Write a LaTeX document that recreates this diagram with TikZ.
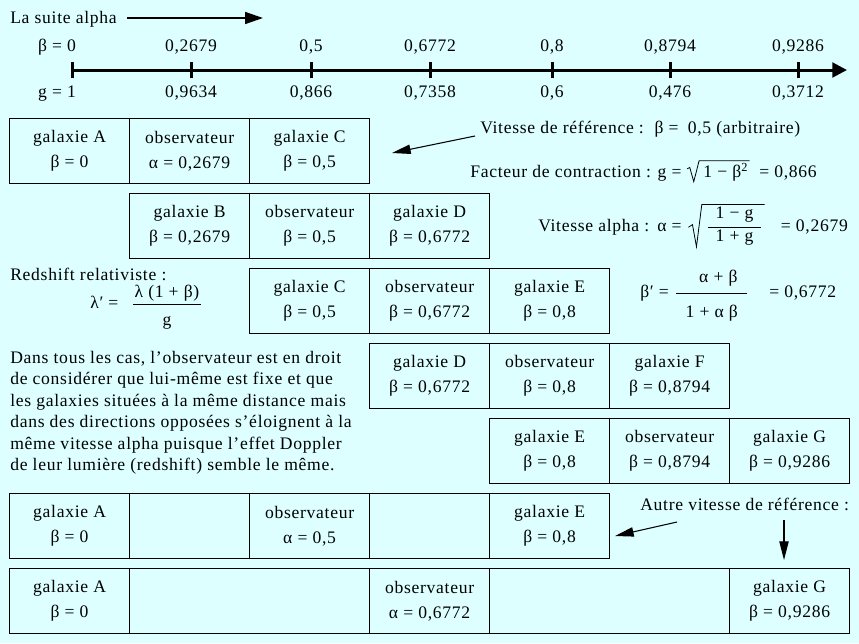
\documentclass[tikz,border=0pt]{standalone}
\usepackage{fontspec}
\setmainfont[LetterSpace=4]{Liberation Serif}
\usetikzlibrary{arrows.meta}
\definecolor{bgc}{RGB}{221,255,255}
\begin{document}
\begin{tikzpicture}[x=0.75pt,y=-0.75pt,
  every node/.style={font=\fontsize{13.2}{18.75}\selectfont, inner sep=0pt},
  cell/.style={draw, line width=0.9pt, anchor=north west, minimum width=90pt, minimum height=48.75pt, align=center},
  wide/.style={cell, minimum width=180pt},
  lbl/.style={anchor=base west},
  clbl/.style={anchor=base},
  radbox/.style={anchor=base west, inner xsep=1pt, inner ysep=1.5pt},
  radline/.style={line width=0.6pt, line join=miter},
  thinarrow/.style={line width=0.8pt, -{Triangle[length=14pt,width=7pt]}},
  tick/.style={line width=2.25pt}
]
\fill[bgc] (0,0) rectangle (859,643);
\useasboundingbox (0,0) rectangle (859,643);

% title and arrow
\node[lbl] (title) at (10,23) {La suite alpha};
\coordinate (ts) at (127,18);
\coordinate (te) at (263,18);
\draw[line width=1.1pt, -{Triangle[length=13.5pt,width=9pt]}] (ts) -- (te);

% axis
\coordinate (ax0) at (72,70);
\coordinate (ax1) at (847,70);
\draw[line width=2.25pt, -{Triangle[length=11pt,width=11pt]}] (ax0) -- (ax1);
\draw[tick] (72,62) -- (72,78);
\node[clbl] (b0) at (57,51) {β = 0};
\node[clbl] (g0) at (57,97) {g = 1};
\foreach \x/\b/\g [count=\i] in {191/{0,2679}/{0,9634}, 311/{0,5}/{0,866}, 430/{0,6772}/{0,7358}, 552/{0,8}/{0,6}, 670/{0,8794}/{0,476}, 798/{0,9286}/{0,3712}}{
  \draw[tick] (\x,62) -- (\x,78);
  \node[clbl] (b\i) at (\x,51) {\b};
  \node[clbl] (g\i) at (\x,97) {\g};
}

% row 1
\node[cell] (r1a) at (9,118) {galaxie A\\β = 0};
\node[cell] (r1b) at (129,118) {observateur\\α = 0,2679};
\node[cell] (r1c) at (249,118) {galaxie C\\β = 0,5};
% row 2
\node[cell] (r2a) at (129,193) {galaxie B\\β = 0,2679};
\node[cell] (r2b) at (249,193) {observateur\\β = 0,5};
\node[cell] (r2c) at (369,193) {galaxie D\\β = 0,6772};
% row 3
\node[cell] (r3a) at (249,268) {galaxie C\\β = 0,5};
\node[cell] (r3b) at (369,268) {observateur\\β = 0,6772};
\node[cell] (r3c) at (489,268) {galaxie E\\β = 0,8};
% row 4
\node[cell] (r4a) at (369,343) {galaxie D\\β = 0,6772};
\node[cell] (r4b) at (489,343) {observateur\\β = 0,8};
\node[cell] (r4c) at (609,343) {galaxie F\\β = 0,8794};
% row 5
\node[cell] (r5a) at (489,418) {galaxie E\\β = 0,8};
\node[cell] (r5b) at (609,418) {observateur\\β = 0,8794};
\node[cell] (r5c) at (729,418) {galaxie G\\β = 0,9286};
% row 6
\node[cell] (r6a) at (9,493) {galaxie A\\β = 0};
\node[cell] (r6b) at (129,493) {};
\node[cell] (r6c) at (249,493) {observateur\\α = 0,5};
\node[cell] (r6d) at (369,493) {};
\node[cell] (r6e) at (489,493) {galaxie E\\β = 0,8};
% row 7
\node[cell] (r7a) at (9,568) {galaxie A\\β = 0};
\node[wide] (r7b) at (129,568) {};
\node[cell] (r7c) at (369,568) {observateur\\α = 0,6772};
\node[wide] (r7d) at (489,568) {};
\node[cell] (r7e) at (729,568) {galaxie G\\β = 0,9286};

% right-hand texts
\node[lbl] (vref) at (480,133) {Vitesse de référence :\hspace{8pt}β =\hspace{7pt}0,5 (arbitraire)};

\node[lbl] (fact) at (470,177) {Facteur de contraction :\hspace{5pt}g =};
\node[radbox] (factc) at ([xshift=15pt]fact.base east) {1 − β\textsuperscript{2}\hspace{2pt}};
\draw[radline] ([xshift=-11pt,yshift=-6pt]factc.north west) -- ([xshift=-9pt,yshift=-5pt]factc.north west)
  -- ([xshift=-6pt,yshift=1pt]factc.south west) -- ([xshift=-2pt]factc.north west) -- (factc.north east);
\node[lbl] (factv) at ([xshift=7pt]factc.base east) {= 0,866};

\node[lbl] (valpha) at (538,231) {Vitesse alpha :\hspace{6pt}α =};
\node[radbox] (valphac) at ([xshift=17pt]valpha.base east) {$\displaystyle\frac{\mbox{\hspace{6pt}1 − g\hspace{6pt}\rule[-5pt]{0pt}{5pt}}}{\mbox{\hspace{6pt}1 + g\hspace{6pt}}}$};
\draw[radline] ([xshift=-12pt,yshift=-17pt]valphac.north west) -- ([xshift=-9pt,yshift=-15pt]valphac.north west)
  -- ([xshift=-6pt,yshift=1pt]valphac.south west) -- ([xshift=-2pt]valphac.north west) -- (valphac.north east);
\node[lbl] (valphav) at ([xshift=12pt]valphac.base east) {= 0,2679};

\node[lbl] (bprime) at (640,297) {β′ =};
\node[lbl] (bfrac) at ([xshift=4pt]bprime.base east) {$\displaystyle\frac{\mbox{\hspace{10pt}α + β\rule[-6.8pt]{0pt}{6.8pt}}}{\mbox{\hspace{7pt}1 + α β\hspace{7pt}\rule{0pt}{17pt}}}$};
\node[lbl] (bval) at ([xshift=15pt]bfrac.base east) {= 0,6772};

% left texts
\node[lbl] (redshift) at (10,280) {Redshift relativiste :};
\node[lbl] (lambda) at (90,308) {λ′ =\hspace{10pt}$\displaystyle\frac{\mbox{\hspace{1pt}λ (1 + β)\hspace{1pt}}}{\mbox{g\rule{0pt}{15pt}}}$};
\node[lbl] (p1) at (10,363) {Dans tous les cas, l’observateur est en droit};
\node[lbl] (p2) at (10,384.5) {de considérer que lui-même est fixe et que};
\node[lbl] (p3) at (10,406) {les galaxies situées à la même distance mais};
\node[lbl] (p4) at (10,427.5) {dans des directions opposées s’éloignent à la};
\node[lbl] (p5) at (10,449) {même vitesse alpha puisque l’effet Doppler};
\node[lbl] (p6) at (10,470.5) {de leur lumière (redshift) semble le même.};

\node[lbl] (autre) at (640,510) {Autre vitesse de référence :};

% arrows
\coordinate (a1s) at (475,136);
\coordinate (a1e) at (392,153);
\draw[thinarrow] (a1s) -- (a1e);
\coordinate (a2s) at (677,522);
\coordinate (a2e) at (615,536);
\draw[thinarrow] (a2s) -- (a2e);
\coordinate (a3s) at (784,520);
\coordinate (a3e) at (784,560);
\draw[thinarrow] (a3s) -- (a3e);
\end{tikzpicture}
\end{document}
